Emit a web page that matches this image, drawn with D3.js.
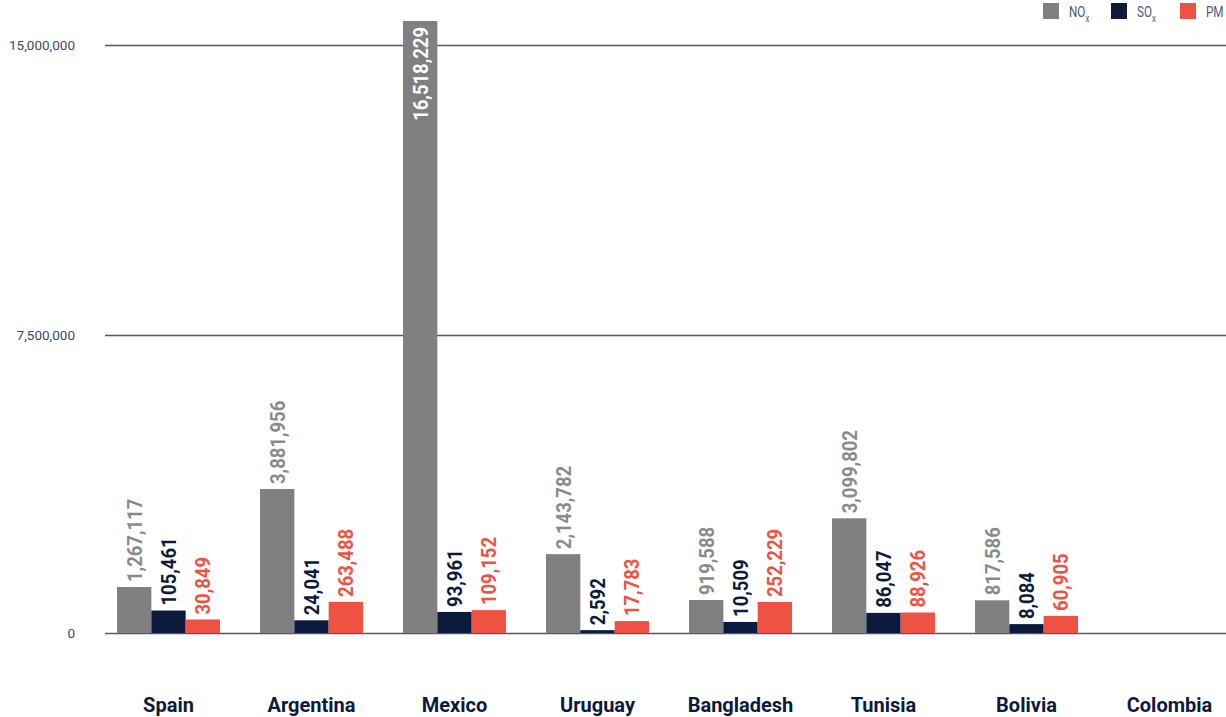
<!DOCTYPE html>
<html>
<head>
<meta charset="utf-8">
<script src="https://d3js.org/d3.v7.min.js"></script>
<style>
  body { margin: 0; background: #fff; }
  svg { display: block; }
  .tick-label { font-family: Roboto, sans-serif; font-size: 13.5px; fill: #3d4866; }
  .cat { font-family: Roboto, sans-serif; font-weight: 700; font-size: 20px; fill: #0c1a3c; }
  .val { font-family: Roboto, sans-serif; font-weight: 700; font-size: 21px; }
  .legend text { font-family: Roboto, sans-serif; font-size: 15px; fill: #4f5975; }
</style>
</head>
<body>
<script>
// data
var countries = ["Spain", "Argentina", "Mexico", "Uruguay", "Bangladesh", "Tunisia", "Bolivia", "Colombia"];
var series = ["NOx", "SOx", "PM"];
var nox = [1267117, 3881956, 16518229, 2143782, 919588, 3099802, 817586, null];
var sox = [105461, 24041, 93961, 2592, 10509, 86047, 8084, null];
var pm  = [30849, 263488, 109152, 17783, 252229, 88926, 60905, null];
var tickValues = [0, 7500000, 15000000];

var colors = { NOx: "#808083", SOx: "#0c1a3c", PM: "#ef5242" };
var labelColors = { NOx: "#8a8a8d", SOx: "#0c1a3c", PM: "#ef5242" };

var W = 1226, H = 717, base = 633;

var svg = d3.select("body").append("svg")
  .attr("width", W).attr("height", H);

var x0 = d3.scaleBand().domain(countries).range([97, 1241]).paddingInner(0.28).paddingOuter(0.14);
var x1 = d3.scaleBand().domain(series).range([0, x0.bandwidth()]);

// the source chart is not linear: small bars are stretched, so a piecewise scale
var y = d3.scaleLinear()
  .domain([0, 10000, 110000, 250000, 920000, 3881956, 7500000, 15000000, 16518229])
  .range([base, base - 11, base - 23, base - 31, base - 33, base - 144, base - 298, base - 588, base - 612]);

// grid lines and tick labels
var grid = svg.append("g");
grid.selectAll("line").data(tickValues).enter().append("line")
  .attr("x1", 105).attr("x2", W)
  .attr("y1", function(d) { return y(d) + 0.5; })
  .attr("y2", function(d) { return y(d) + 0.5; })
  .attr("stroke", "#4c5a78").attr("stroke-width", 1.3);
grid.selectAll("text").data(tickValues).enter().append("text")
  .attr("class", "tick-label")
  .attr("x", 75).attr("y", function(d) { return y(d) + 5; })
  .attr("text-anchor", "end")
  .text(function(d) { return d3.format(",")(d); });

var rows = countries.map(function(c, i) {
  return { country: c, vals: [
    { key: "NOx", v: nox[i] }, { key: "SOx", v: sox[i] }, { key: "PM", v: pm[i] }
  ]};
});

var groups = svg.selectAll(".grp").data(rows).enter().append("g")
  .attr("class", "grp")
  .attr("transform", function(d) { return "translate(" + x0(d.country) + ",0)"; });

var bars = groups.selectAll("g").data(function(d) {
  return d.vals.filter(function(e) { return e.v != null; });
}).enter().append("g");

bars.append("rect")
  .attr("x", function(d) { return x1(d.key); })
  .attr("width", x1.bandwidth())
  .attr("y", function(d) { return y(d.v); })
  .attr("height", function(d) { return base - y(d.v); })
  .attr("fill", function(d) { return colors[d.key]; });

bars.append("text")
  .attr("class", "val")
  .attr("transform", function(d) {
    var cx = x1(d.key) + x1.bandwidth() / 2;
    var inside = d.v > 15000000;
    var yy = inside ? y(d.v) + 6 : y(d.v) - 5;
    return "translate(" + cx + "," + yy + ") rotate(-90) scale(0.88,1)";
  })
  .attr("text-anchor", function(d) { return d.v > 15000000 ? "end" : "start"; })
  .attr("dy", "0.36em")
  .attr("fill", function(d) { return d.v > 15000000 ? "#fff" : labelColors[d.key]; })
  .text(function(d) { return d3.format(",")(d.v); });

// category labels
svg.append("g").selectAll("text").data(countries).enter().append("text")
  .attr("class", "cat")
  .attr("x", function(d) { return x0(d) + x0.bandwidth() / 2; })
  .attr("y", 712)
  .attr("text-anchor", "middle")
  .text(function(d) { return d; });

// legend
var legendX = [1043, 1111, 1180];
var legend = svg.append("g").attr("class", "legend")
  .selectAll("g").data(series).enter().append("g")
  .attr("transform", function(d, i) { return "translate(" + legendX[i] + ",3)"; });
legend.append("rect").attr("width", 16).attr("height", 16)
  .attr("fill", function(d) { return colors[d]; });
var lt = legend.append("text").attr("transform", "translate(26,14) scale(0.78,1)");
lt.append("tspan").text(function(d) { return d === "PM" ? "PM" : d.slice(0, 2); });
lt.filter(function(d) { return d !== "PM"; }).append("tspan")
  .attr("font-size", "10px").attr("dy", 5)
  .text(function(d) { return d.slice(2); });
</script>
</body>
</html>
